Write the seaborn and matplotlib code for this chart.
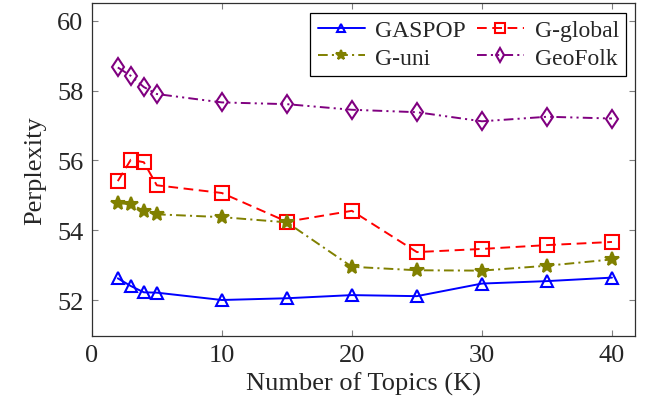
import matplotlib
matplotlib.use('Agg')
import matplotlib.pyplot as plt
import seaborn as sns
import pandas as pd

# data
topics = [2, 3, 4, 5, 10, 15, 20, 25, 30, 35, 40]
gaspop = [52.63, 52.41, 52.23, 52.22, 52.01, 52.06, 52.15, 52.12, 52.48, 52.55, 52.65]
g_global = [55.41, 56.02, 55.95, 55.29, 55.07, 54.25, 54.56, 53.38, 53.47, 53.58, 53.67]
g_uni = [54.78, 54.75, 54.56, 54.46, 54.38, 54.23, 52.96, 52.86, 52.85, 52.99, 53.17]
geofolk = [58.66, 58.42, 58.10, 57.90, 57.66, 57.61, 57.45, 57.38, 57.12, 57.25, 57.20]

sns.set_style('ticks')
plt.rcParams['font.family'] = ['Liberation Serif', 'DejaVu Serif']
plt.rcParams['lines.scale_dashes'] = False

fig = plt.figure(figsize=(6.51, 4.10), dpi=100)
ax = fig.add_axes([0.141, 0.178, 0.835, 0.812])

series = [
    ('GASPOP', gaspop, '#0000ff', '-', '^', 'none', 9),
    ('G-global', g_global, '#ff0000', (0, (7, 4)), 's', 'none', 10.5),
    ('G-uni', g_uni, '#808000', (0, (7, 3, 1.5, 3)), '*', '#808000', 10.5),
    ('GeoFolk', geofolk, '#800080', (0, (7, 3, 1.5, 3, 1.5, 3)), 'd', 'none', 9.5),
]

for name, vals, col, ls, mk, mfc, ms in series:
    df = pd.DataFrame({'K': topics, 'perp': vals})
    sns.lineplot(data=df, x='K', y='perp', ax=ax, color=col, linestyle=ls,
                 marker=mk, markerfacecolor=mfc, markeredgecolor=col,
                 markeredgewidth=1.5, markersize=ms, linewidth=1.4, label=name)

ax.set_xlim(0, 41.8)
ax.set_ylim(50.98, 60.5)
ax.set_xticks([0, 10, 20, 30, 40])
ax.set_yticks([52, 54, 56, 58, 60])
ax.tick_params(direction='in', top=True, right=True, labelsize=19, length=4,
               color='#808080', width=0.8, pad=6)
for s in ax.spines.values():
    s.set_color('#303030')
    s.set_linewidth(0.9)
ax.set_xlabel('Number of Topics (K)', fontsize=19, labelpad=4)
ax.set_ylabel('Perplexity', fontsize=19, labelpad=8)

# row-wise legend order: GASPOP, G-global / G-uni, GeoFolk
h, l = ax.get_legend_handles_labels()
order = [0, 2, 1, 3]
leg = ax.legend([h[i] for i in order], [l[i] for i in order],
                loc='upper right', ncol=2, fontsize=17, frameon=True, fancybox=False,
                edgecolor='black', framealpha=1, borderaxespad=0.4,
                handlelength=2.0, columnspacing=0.45, handletextpad=0.45,
                borderpad=0.3, labelspacing=0.25, markerscale=0.7)
leg.get_frame().set_linewidth(0.9)

fig.savefig('out.png', dpi=100)
